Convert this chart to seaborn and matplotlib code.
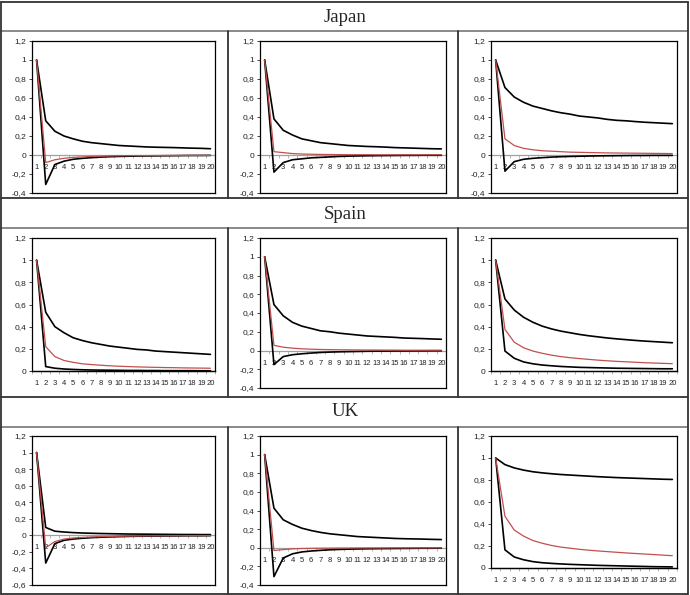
import numpy as np
import pandas as pd
import seaborn as sns
import matplotlib.pyplot as plt
from matplotlib import ticker
from matplotlib.lines import Line2D

# === DATA ===
periods = list(range(1, 21))
countries = ['Japan', 'Spain', 'UK']

japan_1_upper = [1, 0.36, 0.25, 0.2, 0.17, 0.145, 0.13, 0.12, 0.11, 0.1, 0.095, 0.09, 0.085, 0.082, 0.08, 0.078, 0.075, 0.072, 0.07, 0.066]
japan_1_irf = [1, -0.08, -0.05, -0.035, -0.025, -0.02, -0.015, -0.012, -0.01, -0.008, -0.007, -0.006, -0.006, -0.005, -0.005, -0.005, -0.004, -0.004, -0.004, -0.004]
japan_1_lower = [1, -0.31, -0.1, -0.065, -0.045, -0.035, -0.028, -0.022, -0.018, -0.015, -0.013, -0.011, -0.01, -0.009, -0.008, -0.007, -0.006, -0.005, -0.005, -0.004]

japan_2_upper = [1, 0.38, 0.26, 0.21, 0.17, 0.15, 0.13, 0.12, 0.11, 0.1, 0.095, 0.09, 0.087, 0.083, 0.078, 0.075, 0.072, 0.069, 0.066, 0.064]
japan_2_irf = [1, 0.035, 0.025, 0.015, 0.01, 0.008, 0.006, 0.005, 0.004, 0.003, 0.003, 0.003, 0.002, 0.002, 0.002, 0.002, 0.002, 0.002, 0.002, 0.002]
japan_2_lower = [1, -0.18, -0.08, -0.05, -0.04, -0.03, -0.025, -0.02, -0.015, -0.012, -0.01, -0.008, -0.007, -0.006, -0.005, -0.004, -0.004, -0.003, -0.003, -0.003]

japan_3_upper = [1, 0.71, 0.61, 0.555, 0.515, 0.49, 0.465, 0.445, 0.43, 0.41, 0.4, 0.39, 0.375, 0.365, 0.36, 0.352, 0.345, 0.34, 0.335, 0.33]
japan_3_irf = [1, 0.17, 0.1, 0.07, 0.055, 0.045, 0.04, 0.035, 0.03, 0.028, 0.026, 0.024, 0.022, 0.021, 0.02, 0.019, 0.018, 0.017, 0.016, 0.015]
japan_3_lower = [1, -0.17, -0.07, -0.045, -0.035, -0.028, -0.022, -0.018, -0.015, -0.013, -0.011, -0.009, -0.008, -0.007, -0.006, -0.005, -0.005, -0.004, -0.004, -0.004]

spain_1_upper = [1, 0.53, 0.4, 0.345, 0.3, 0.275, 0.255, 0.24, 0.225, 0.215, 0.205, 0.195, 0.19, 0.18, 0.175, 0.17, 0.165, 0.16, 0.155, 0.15]
spain_1_irf = [1, 0.22, 0.13, 0.095, 0.078, 0.065, 0.058, 0.052, 0.047, 0.043, 0.04, 0.037, 0.035, 0.033, 0.031, 0.03, 0.028, 0.027, 0.026, 0.025]
spain_1_lower = [1, 0.04, 0.025, 0.018, 0.014, 0.011, 0.009, 0.008, 0.007, 0.006, 0.005, 0.005, 0.004, 0.004, 0.003, 0.003, 0.003, 0.003, 0.002, 0.002]

spain_2_upper = [1, 0.49, 0.37, 0.3, 0.26, 0.235, 0.21, 0.2, 0.185, 0.175, 0.165, 0.155, 0.15, 0.145, 0.14, 0.133, 0.13, 0.127, 0.123, 0.12]
spain_2_irf = [1, 0.055, 0.035, 0.025, 0.018, 0.014, 0.011, 0.009, 0.008, 0.007, 0.006, 0.005, 0.005, 0.004, 0.004, 0.003, 0.003, 0.003, 0.003, 0.003]
spain_2_lower = [1, -0.15, -0.065, -0.045, -0.035, -0.027, -0.021, -0.017, -0.014, -0.012, -0.01, -0.008, -0.007, -0.006, -0.005, -0.005, -0.004, -0.004, -0.003, -0.003]

spain_3_upper = [1, 0.65, 0.55, 0.485, 0.44, 0.405, 0.38, 0.36, 0.345, 0.33, 0.318, 0.308, 0.298, 0.29, 0.283, 0.276, 0.27, 0.265, 0.26, 0.255]
spain_3_irf = [1, 0.375, 0.26, 0.21, 0.18, 0.16, 0.143, 0.13, 0.12, 0.112, 0.105, 0.098, 0.092, 0.087, 0.083, 0.079, 0.075, 0.072, 0.069, 0.066]
spain_3_lower = [1, 0.18, 0.115, 0.082, 0.065, 0.054, 0.047, 0.041, 0.037, 0.033, 0.031, 0.029, 0.027, 0.025, 0.024, 0.023, 0.022, 0.021, 0.02, 0.02]

uk_1_upper = [1, 0.095, 0.05, 0.04, 0.033, 0.028, 0.025, 0.022, 0.02, 0.018, 0.016, 0.015, 0.014, 0.013, 0.012, 0.011, 0.01, 0.01, 0.009, 0.009]
uk_1_irf = [1, -0.15, -0.075, -0.045, -0.032, -0.025, -0.02, -0.016, -0.013, -0.011, -0.009, -0.008, -0.007, -0.006, -0.005, -0.004, -0.004, -0.003, -0.003, -0.003]
uk_1_lower = [1, -0.335, -0.1, -0.06, -0.045, -0.035, -0.028, -0.023, -0.019, -0.016, -0.013, -0.011, -0.01, -0.009, -0.008, -0.007, -0.006, -0.005, -0.005, -0.004]

uk_2_upper = [1, 0.425, 0.3, 0.25, 0.21, 0.185, 0.165, 0.15, 0.14, 0.13, 0.12, 0.115, 0.11, 0.105, 0.1, 0.097, 0.095, 0.093, 0.09, 0.088]
uk_2_irf = [1, -0.03, -0.02, -0.012, -0.008, -0.006, -0.005, -0.004, -0.003, -0.003, -0.002, -0.002, -0.002, -0.002, -0.001, -0.001, -0.001, -0.001, -0.001, -0.001]
uk_2_lower = [1, -0.31, -0.11, -0.065, -0.045, -0.035, -0.028, -0.022, -0.018, -0.015, -0.013, -0.011, -0.01, -0.009, -0.008, -0.007, -0.006, -0.005, -0.005, -0.004]

uk_3_upper = [1, 0.94, 0.91, 0.89, 0.875, 0.865, 0.857, 0.85, 0.845, 0.84, 0.835, 0.83, 0.826, 0.822, 0.819, 0.816, 0.813, 0.81, 0.807, 0.805]
uk_3_irf = [1, 0.47, 0.345, 0.29, 0.25, 0.225, 0.205, 0.19, 0.18, 0.17, 0.162, 0.155, 0.149, 0.143, 0.137, 0.132, 0.127, 0.122, 0.117, 0.112]
uk_3_lower = [1, 0.165, 0.1, 0.075, 0.058, 0.048, 0.042, 0.037, 0.033, 0.03, 0.027, 0.024, 0.022, 0.02, 0.018, 0.016, 0.014, 0.012, 0.011, 0.01]

panels = [
    [(japan_1_upper, japan_1_irf, japan_1_lower), (japan_2_upper, japan_2_irf, japan_2_lower), (japan_3_upper, japan_3_irf, japan_3_lower)],
    [(spain_1_upper, spain_1_irf, spain_1_lower), (spain_2_upper, spain_2_irf, spain_2_lower), (spain_3_upper, spain_3_irf, spain_3_lower)],
    [(uk_1_upper, uk_1_irf, uk_1_lower), (uk_2_upper, uk_2_irf, uk_2_lower), (uk_3_upper, uk_3_irf, uk_3_lower)],
]
y_min = [[-0.4, -0.4, -0.4], [0, -0.4, 0], [-0.6, -0.4, 0]]

# === PLOT SETTINGS ===
sns.set_style('white')
plt.rcParams['font.family'] = ['Liberation Sans Narrow', 'Liberation Sans', 'DejaVu Sans']

W, H = 690, 595
fig = plt.figure(figsize=(W / 100, H / 100), dpi=100)

# pixel boxes of the plot areas (left, right) per column and (top, bottom) per panel
col_lr = [(32, 215), (260, 446), (491, 677)]
row_tb = [
    [(41, 193), (41, 193), (41, 193)],
    [(238, 371), (238, 388), (238, 371)],
    [(436, 585), (436, 585), (436, 568)],
]
title_y = [17, 214, 412]


def comma_fmt(v, pos):
    s = f'{round(v, 1):g}'
    if s == '-0':
        s = '0'
    return s.replace('.', ',')


def fline(x0, y0, x1, y1, color='#333333', lw=1.3):
    fig.add_artist(Line2D([x0 / W, x1 / W], [1 - y0 / H, 1 - y1 / H],
                          transform=fig.transFigure, color=color, lw=lw))


# === TABLE FRAME ===
for y in [2, 198, 397, 594]:
    fline(1, y, 688, y)
for y in [31, 228, 427]:
    fline(1, y, 688, y, color='#808080')
fline(1, 2, 1, 594)
fline(688, 2, 688, 594)
for y0, y1 in [(31, 198), (228, 397), (427, 594)]:
    for x in [228, 458]:
        fline(x, y0, x, y1)

for r, country in enumerate(countries):
    fig.text(345 / W, 1 - title_y[r] / H, country, ha='center', va='center',
             fontsize=13.5, family=['Liberation Serif', 'DejaVu Serif'])

# === PANELS ===
for r in range(3):
    for c in range(3):
        l, rr = col_lr[c]
        t, b = row_tb[r][c]
        ax = fig.add_axes([l / W, 1 - b / H, (rr - l) / W, (b - t) / H])
        upper, irf, lower = panels[r][c]
        df = pd.DataFrame({'period': periods, 'upper': upper, 'irf': irf, 'lower': lower})

        sns.lineplot(data=df, x='period', y='upper', color='black', lw=1.2, ax=ax)
        sns.lineplot(data=df, x='period', y='lower', color='black', lw=1.2, ax=ax)
        sns.lineplot(data=df, x='period', y='irf', color='#c0504d', lw=0.9, ax=ax)

        ymin = y_min[r][c]
        ax.set_xlim(0.5, 20.5)
        ax.set_ylim(ymin, 1.2)
        ax.set_yticks(np.round(np.arange(ymin, 1.21, 0.2), 1))
        ax.yaxis.set_major_formatter(ticker.FuncFormatter(comma_fmt))
        ax.tick_params(axis='y', left=True, length=2, width=0.6, pad=2,
                       labelsize=6, colors='#222222')
        ax.set_xticks([])
        ax.set_xlabel('')
        ax.set_ylabel('')
        for sp in ax.spines.values():
            sp.set_color('black')
            sp.set_linewidth(0.9)
            sp.set_visible(True)

        # category axis crossing at zero
        frac = (0 - ymin) / (1.2 - ymin)
        sec = ax.secondary_xaxis(frac)
        sec.set_xticks(periods)
        sec.set_xticks(np.arange(0.5, 21, 1), minor=True)
        sec.tick_params(which='major', bottom=True, length=0, pad=6.5,
                        labelsize=5.5, colors='#222222')
        sec.tick_params(which='minor', bottom=True, length=2, width=0.5,
                        direction='out', color='#999999')
        sec.spines['bottom'].set_color('black' if frac == 0 else '#a0a0a0')
        sec.spines['bottom'].set_linewidth(0.9)

# === SAVE FIGURE ===
fig.savefig('out.png', dpi=100)
